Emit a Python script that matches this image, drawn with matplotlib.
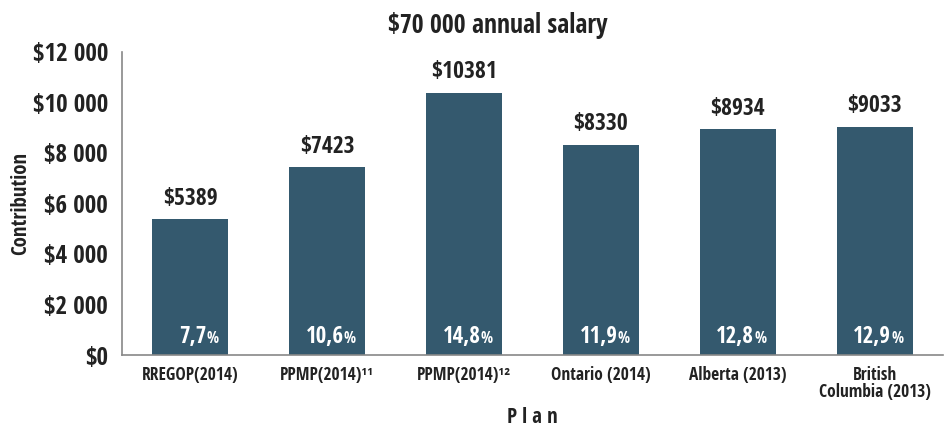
import matplotlib.pyplot as plt

plt.rcParams['text.parse_math'] = False
plt.rcParams['font.family'] = ['Open Sans Condensed', 'DejaVu Sans']
plt.rcParams['font.weight'] = 'bold'

# data
plans = ['RREGOP(2014)', 'PPMP(2014)¹¹', 'PPMP(2014)¹²', 'Ontario (2014)',
         'Alberta (2013)', 'British\nColumbia (2013)']
contrib = [5389, 7423, 10381, 8330, 8934, 9033]
rates = ['7,7', '10,6', '14,8', '11,9', '12,8', '12,9']
yticks = [0, 2000, 4000, 6000, 8000, 10000, 12000]
ytick_labels = ['$0', '$2 000', '$4 000', '$6 000', '$8 000', '$10 000', '$12 000']

bar_color = '#34596e'

fig = plt.figure(figsize=(9.45, 4.3), dpi=100)
ax = fig.add_axes([0.129, 0.1744, 0.869, 0.705])

x = range(len(plans))
ax.bar(x, contrib, width=0.555, color=bar_color)

for i, v in enumerate(contrib):
    ax.annotate('$' + str(v), (i, v), xytext=(0, 6), textcoords='offset points',
                ha='center', va='bottom', fontsize=17, color='#222222')
    ax.text(i + 0.12, 720, rates[i], ha='right', va='center', fontsize=16.5, color='white')
    ax.text(i + 0.12, 650, '%', ha='left', va='center', fontsize=11.5, color='white')

ax.set_xlim(-0.5, 5.5)
ax.set_ylim(0, 12000)
ax.set_yticks(yticks)
ax.set_yticklabels(ytick_labels, fontsize=18, color='#222222')
ax.set_xticks(list(x))
ax.set_xticklabels(plans, fontsize=12.5, color='#222222', linespacing=0.95)
ax.tick_params(axis='both', length=0)
ax.tick_params(axis='y', pad=10)
ax.tick_params(axis='x', pad=8)

for s in ['top', 'right']:
    ax.spines[s].set_visible(False)
for s in ['left', 'bottom']:
    ax.spines[s].set_color('#888888')
    ax.spines[s].set_linewidth(1.2)

ax.set_ylabel('Contribution', fontsize=15, color='#222222', labelpad=1)
ax.set_xlabel('P l a n', fontsize=15, color='#222222', labelpad=4)
fig.text(0.527, 0.94, '$70 000 annual salary', ha='center', va='center',
         fontsize=18.5, color='#222222', fontweight='bold')

fig.savefig('out.png', dpi=100)
